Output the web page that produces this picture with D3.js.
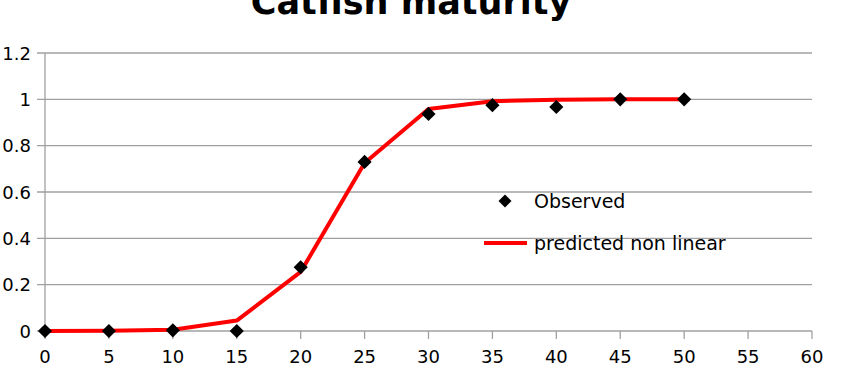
<!DOCTYPE html>
<html><head><meta charset="utf-8">
<script src="https://cdn.jsdelivr.net/npm/d3@7"></script>
<style>body{margin:0;background:#fff}svg{display:block}text{font-family:"DejaVu Sans",sans-serif}</style>
</head><body>
<svg id="c" width="846" height="390"></svg>
<script>
const ages = [0,5,10,15,20,25,30,35,40,45,50];
const observed = [0,0,0.003,0,0.275,0.73,0.937,0.975,0.967,1.0,1.0];
const predicted = [0,0.001,0.005,0.045,0.255,0.725,0.958,0.992,0.998,1.0,1.0];
const xTicks = [0,5,10,15,20,25,30,35,40,45,50,55,60];
const yTicks = [0,0.2,0.4,0.6,0.8,1,1.2];
const title = "Catfish maturity";
const legendLabels = ["Observed","predicted non linear"];

const svg = d3.select("#c");
const x = d3.scaleLinear().domain([0,60]).range([45,812]);
const y = d3.scaleLinear().domain([0,1.2]).range([331,53]);
const grid = "#a0a0a0";

svg.append("g").selectAll("line").data(yTicks).join("line")
  .attr("x1",37).attr("x2",812).attr("y1",d=>y(d)).attr("y2",d=>y(d))
  .attr("stroke",grid).attr("stroke-width",1.3);
svg.append("line").attr("x1",45).attr("x2",45).attr("y1",y(1.2)).attr("y2",y(0))
  .attr("stroke",grid).attr("stroke-width",1.3);
svg.append("g").selectAll("line").data(xTicks).join("line")
  .attr("x1",d=>x(d)).attr("x2",d=>x(d)).attr("y1",331).attr("y2",339)
  .attr("stroke",grid).attr("stroke-width",1.3);
svg.append("g").selectAll("text").data(yTicks).join("text")
  .attr("x",31).attr("y",d=>y(d)+6.5).attr("text-anchor","end")
  .attr("font-size",18).text(d=>d);
svg.append("g").selectAll("text").data(xTicks).join("text")
  .attr("x",d=>x(d)).attr("y",363).attr("text-anchor","middle")
  .attr("font-size",18).text(d=>d);

const line = d3.line().x((d,i)=>x(ages[i])).y(d=>y(d));
svg.append("path").attr("d",line(predicted)).attr("fill","none")
  .attr("stroke","#ff0000").attr("stroke-width",4).attr("stroke-linejoin","round");

const sq = d3.symbol().type(d3.symbolSquare).size(100);
svg.append("g").selectAll("path").data(observed).join("path")
  .attr("d",sq).attr("transform",(d,i)=>`translate(${x(ages[i])},${y(d)}) rotate(45)`)
  .attr("fill","#000");

svg.append("path").attr("d",d3.symbol().type(d3.symbolSquare).size(85)())
  .attr("transform","translate(505,201) rotate(45)").attr("fill","#000");
svg.append("text").attr("x",534).attr("y",208).attr("font-size",19).text(legendLabels[0]);
svg.append("line").attr("x1",484).attr("x2",527).attr("y1",243).attr("y2",243)
  .attr("stroke","#ff0000").attr("stroke-width",4);
svg.append("text").attr("x",534).attr("y",250).attr("font-size",19).text(legendLabels[1]);

svg.append("text").attr("x",411).attr("y",14).attr("text-anchor","middle")
  .attr("font-size",35).attr("font-weight","bold").text(title);
</script>
</body></html>
